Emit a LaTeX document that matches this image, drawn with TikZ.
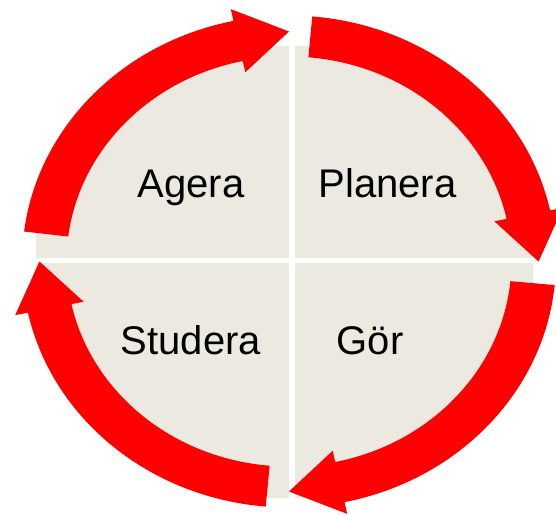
\documentclass[tikz,border=0pt]{standalone}
\usepackage{fontspec}
\setmainfont{Liberation Sans}
\definecolor{arrowred}{RGB}{255,0,0}
\definecolor{quadbeige}{RGB}{236,233,225}
\tikzset{
  lbl/.style={font=\fontsize{40}{48}\selectfont, text=black, inner sep=0pt, anchor=base},
  redarrow/.style={fill=arrowred, draw=none},
  ring/.style={shift={(289,-261.5)}, xscale=1.085}
}
\begin{document}
\begin{tikzpicture}[x=1pt,y=1pt]
\useasboundingbox (0,0) rectangle (556,-514);
% beige disc clipped to a rectangle
\begin{scope}
  \clip[ring] (0,0) circle[radius=243];
  \fill[quadbeige] (35.5,-46) rectangle (533,-498);
\end{scope}
% white dividers
\fill[white] (288.5,-30) rectangle (295,-510);
\fill[white] (20,-257.8) rectangle (545,-263.2);
% arrows
\begin{scope}[ring]
  % Planera (top right)
  \fill[redarrow] (85:246) arc[start angle=85, end angle=12, radius=246]
    -- (12:258) -- (0:230) -- (12:193.5) -- (12:205)
    arc[start angle=12, end angle=85, radius=205] -- cycle;
  % Gor (bottom right)
  \fill[redarrow] (-5.5:246) arc[start angle=-5.5, end angle=-78, radius=246]
    -- (-78:258) -- (-90:230) -- (-78:193.5) -- (-78:205)
    arc[start angle=-78, end angle=-5.5, radius=205] -- cycle;
  % Studera (bottom left)
  \fill[redarrow] (265:246) arc[start angle=265, end angle=192, radius=246]
    -- (192:258) -- (180:230) -- (192:193.5) -- (192:205)
    arc[start angle=192, end angle=265, radius=205] -- cycle;
  % Agera (top left)
  \fill[redarrow] (173:246) arc[start angle=173, end angle=102, radius=246]
    -- (102:258) -- (90:230) -- (102:193.5) -- (102:205)
    arc[start angle=102, end angle=173, radius=205] -- cycle;
\end{scope}
% labels
\node[lbl] (agera) at (191,-197.7) {Agera};
\node[lbl] (planera) at (387.4,-197.7) {Planera};
\node[lbl] (studera) at (190.8,-354.5) {Studera};
\node[lbl] (gor) at (370,-354.5) {Gör};
\end{tikzpicture}
\end{document}
